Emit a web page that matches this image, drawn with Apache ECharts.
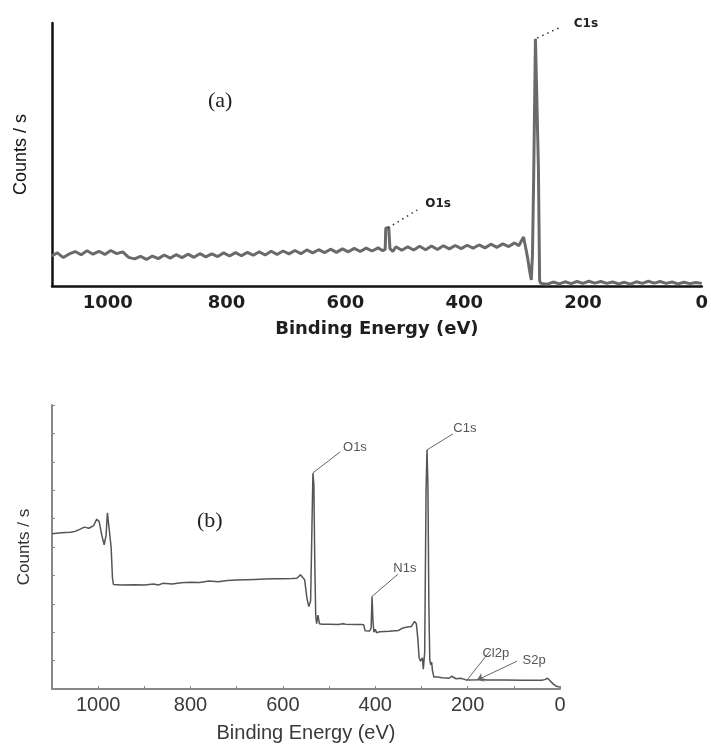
<!DOCTYPE html>
<html>
<head>
<meta charset="utf-8">
<title>XPS survey spectra</title>
<script src="https://cdn.jsdelivr.net/npm/echarts/dist/echarts.min.js"></script>
<style>
    html, body { margin: 0; padding: 0; background: #fff; }
    #chart { width: 711px; height: 744px; }
</style>
</head>
<body>
<div id="chart"></div>
<script>
    // 谱图 (a) 数据: 结合能 / 计数
    var energyA = [1095,1085,1075,1065,1055,1045,1035,1025,1015,1005,995,985,975,965,955,945,935,925,915,905,
        895,885,875,865,855,845,835,825,815,805,795,785,775,765,755,745,735,725,715,705,
        695,685,675,665,655,645,635,625,615,605,595,585,575,565,555,545,537,533,532,527,
        525,520,515,505,495,485,475,465,455,445,435,425,415,405,395,385,375,365,355,345,
        335,325,315,308,303,300,297,293,290,287,285,283,280,277,275,273,271,268,260,250,
        240,230,220,210,200,190,180,170,160,150,140,130,120,110,100,90,80,70,60,50,
        40,30,20,10,0];
    var countsA = [11.4,12.6,10.8,12.2,13.1,11.9,13.4,12.1,13.2,12.0,13.5,12.3,13.0,10.9,10.3,11.3,10.1,11.4,10.4,11.8,
        10.6,11.9,10.8,12.1,10.9,12.3,11.1,12.2,11.2,12.6,11.4,12.7,11.5,12.8,11.7,13.0,11.8,13.2,12.0,13.3,
        12.2,13.5,12.3,13.7,12.6,13.8,12.7,14.0,12.8,14.1,13.0,14.3,13.1,14.4,13.3,14.5,13.4,14.0,22.0,22.3,
        14.2,13.1,14.9,13.6,14.9,13.7,15.1,13.8,15.2,13.9,15.3,14.1,15.4,14.2,15.5,14.4,15.6,14.5,15.9,14.7,
        16.0,15.0,16.4,15.3,17.4,18.6,15.2,10.5,6.0,2.3,12.0,41.0,94.0,94.3,45.0,2.0,1.0,1.4,0.7,1.5,
        0.8,1.6,0.9,1.7,1.0,1.8,1.1,1.7,1.0,1.5,0.8,1.4,0.7,1.6,1.0,1.8,1.1,1.7,1.0,1.5,
        0.8,1.4,0.9,1.3,1.0];

    // 谱图 (b) 数据
    var energyB = [1100,1080,1060,1050,1040,1030,1020,1010,1003,998,992,987,983,980,976,972,969,967,950,920,
        900,880,870,860,840,820,800,780,760,740,720,700,680,660,640,620,600,580,570,562,
        558,553,548,544,540,537,535,533,531,529,527,524,521,515,500,480,470,467,464,440,
        430,425,422,412,409,407,405,403,400,397,390,370,350,340,330,322,318,315,311,308,
        305,302,298,296,293,290,288,286,284,282,280,278,276,273,265,255,240,235,232,225,
        215,205,195,180,170,160,120,80,40,33,30,27,22,15,8,3,0];
    var countsB = [5.47,5.50,5.52,5.55,5.62,5.70,5.66,5.75,5.98,5.90,5.40,5.08,5.40,6.20,6.18,5.0,3.9,3.68,3.66,3.67,
        3.66,3.70,3.66,3.72,3.70,3.74,3.76,3.75,3.80,3.78,3.82,3.84,3.85,3.86,3.87,3.88,3.88,3.89,3.90,4.02,
        4.05,3.85,3.2,2.9,3.1,5.8,7.6,7.2,4.5,2.6,2.3,2.6,2.3,2.28,2.28,2.27,2.30,2.34,2.28,2.27,
        2.27,2.26,2.05,2.04,2.15,3.26,2.4,2.0,2.1,1.98,2.02,2.03,2.06,2.15,2.18,2.2,2.3,2.38,2.3,1.8,
        1.1,0.98,1.1,0.7,1.3,7.0,8.42,7.2,3.0,1.05,0.85,0.95,0.63,0.42,0.42,0.40,0.38,0.45,0.38,0.36,
        0.38,0.33,0.32,0.33,0.35,0.32,0.32,0.31,0.31,0.33,0.40,0.38,0.30,0.18,0.10,0.08,0.07];

    // 峰标注: 名称, 峰位置, 引线终点, 文字位置
    var peaksA = ['O1s', 'C1s'];
    var peakFromA = [[528, 22.1], [277, 94.3]];
    var peakToA = [[479, 28.9], [237, 98.5]];
    var peakTextA = [[444, 31.2], [195, 99.5]];

    var peaksB = ['O1s', 'C1s', 'N1s', 'Cl2p', 'S2p'];
    var peakFromB = [[535, 7.61], [288, 8.42], [407, 3.26], [203, 0.28], [180, 0.31]];
    var peakToB = [[476, 8.35], [232, 8.98], [351, 4.04], [152, 1.33], [93, 0.98]];
    var peakTextB = [[444, 8.49], [206, 9.16], [336, 4.25], [139, 1.26], [56, 1.02]];

    function pairs(xs, ys) {
        return xs.map(function (x, i) { return [x, ys[i]]; });
    }

    function leaderLines(from, to, arrowIdx) {
        return from.map(function (p, i) {
            return [
                {coord: p, symbol: i === arrowIdx ? 'arrow' : 'none', symbolSize: 7},
                {coord: to[i], symbol: 'none'}
            ];
        });
    }

    function peakLabels(names, pos) {
        return names.map(function (n, i) {
            return {name: n, coord: pos[i]};
        });
    }

    var myChart = echarts.init(document.getElementById('chart'));

    var option = {
        animation: false,
        backgroundColor: '#fff',
        grid: [
            {left: 52, top: 23, width: 651, height: 263},
            {left: 52, top: 405, width: 508, height: 285}
        ],
        xAxis: [
            {
                gridIndex: 0, type: 'value', inverse: true, min: 0, max: 1094, interval: 200,
                name: 'Binding Energy (eV)', nameLocation: 'middle', nameGap: 34,
                nameTextStyle: {fontFamily: 'DejaVu Sans', fontWeight: 'bold', fontSize: 18, color: '#1e1e1e'},
                axisLine: {onZero: false, lineStyle: {color: '#111', width: 2.5}},
                axisTick: {show: false},
                splitLine: {show: false},
                axisLabel: {showMaxLabel: false, margin: 8, fontFamily: 'DejaVu Sans', fontWeight: 'bold', fontSize: 18, color: '#1e1e1e',
                    formatter: function (v) { return String(v); }}
            },
            {
                gridIndex: 1, type: 'value', inverse: true, min: 0, max: 1100, interval: 100,
                name: 'Binding Energy (eV)', nameLocation: 'middle', nameGap: 34,
                nameTextStyle: {fontFamily: 'Liberation Sans', fontSize: 20, color: '#3a3a3a'},
                axisLine: {onZero: false, lineStyle: {color: '#888', width: 2}},
                axisTick: {inside: true, length: 3, lineStyle: {color: '#888'}},
                splitLine: {show: false},
                axisLabel: {
                    margin: 6, fontFamily: 'Liberation Sans', fontSize: 20, color: '#3a3a3a',
                    formatter: function (v) { return v % 200 === 0 ? String(v) : ''; }
                }
            }
        ],
        yAxis: [
            {
                gridIndex: 0, type: 'value', min: 0, max: 100, position: 'left',
                name: 'Counts / s', nameLocation: 'middle', nameGap: 22, nameRotate: 90,
                nameTextStyle: {fontFamily: 'Liberation Sans', fontSize: 18, color: '#111'},
                axisLine: {show: true, onZero: false, lineStyle: {color: '#111', width: 2.5}},
                axisTick: {show: false},
                axisLabel: {show: false},
                splitLine: {show: false}
            },
            {
                gridIndex: 1, type: 'value', min: 0, max: 10, interval: 1, position: 'left',
                name: 'Counts / s', nameLocation: 'middle', nameGap: 19, nameRotate: 90,
                nameTextStyle: {fontFamily: 'Liberation Sans', fontSize: 17, color: '#333'},
                axisLine: {show: true, onZero: false, lineStyle: {color: '#888', width: 2}},
                axisTick: {inside: true, length: 3, lineStyle: {color: '#888'}},
                axisLabel: {show: false},
                splitLine: {show: false}
            }
        ],
        series: [
            {
                type: 'line', xAxisIndex: 0, yAxisIndex: 0,
                data: pairs(energyA, countsA),
                symbol: 'none',
                lineStyle: {color: '#6a6a6a', width: 3},
                markLine: {
                    silent: true, symbol: 'none', label: {show: false},
                    lineStyle: {color: '#333', width: 1.5, type: [1.5, 4]},
                    data: leaderLines(peakFromA, peakToA, -1)
                },
                markPoint: {
                    silent: true, symbol: 'circle', symbolSize: 0,
                    label: {show: true, position: 'inside', formatter: '{b}',
                        fontFamily: 'DejaVu Sans', fontWeight: 'bold', fontSize: 12, color: '#222'},
                    data: peakLabels(peaksA, peakTextA)
                }
            },
            {
                type: 'line', xAxisIndex: 1, yAxisIndex: 1,
                data: pairs(energyB, countsB),
                symbol: 'none',
                lineStyle: {color: '#555', width: 1.5},
                markLine: {
                    silent: true, label: {show: false},
                    lineStyle: {color: '#666', width: 1, type: 'solid'},
                    data: leaderLines(peakFromB, peakToB, 4)
                },
                markPoint: {
                    silent: true, symbol: 'circle', symbolSize: 0,
                    label: {show: true, position: 'inside', formatter: '{b}',
                        fontFamily: 'Liberation Sans', fontSize: 13, color: '#555'},
                    data: peakLabels(peaksB, peakTextB)
                }
            }
        ],
        graphic: [
            {type: 'text', left: 208, top: 90, style: {text: '(a)', font: '22px "Liberation Serif"', fill: '#222'}},
            {type: 'text', left: 197, top: 510, style: {text: '(b)', font: '22px "Liberation Serif"', fill: '#222'}}
        ]
    };

    myChart.setOption(option);
</script>
</body>
</html>
